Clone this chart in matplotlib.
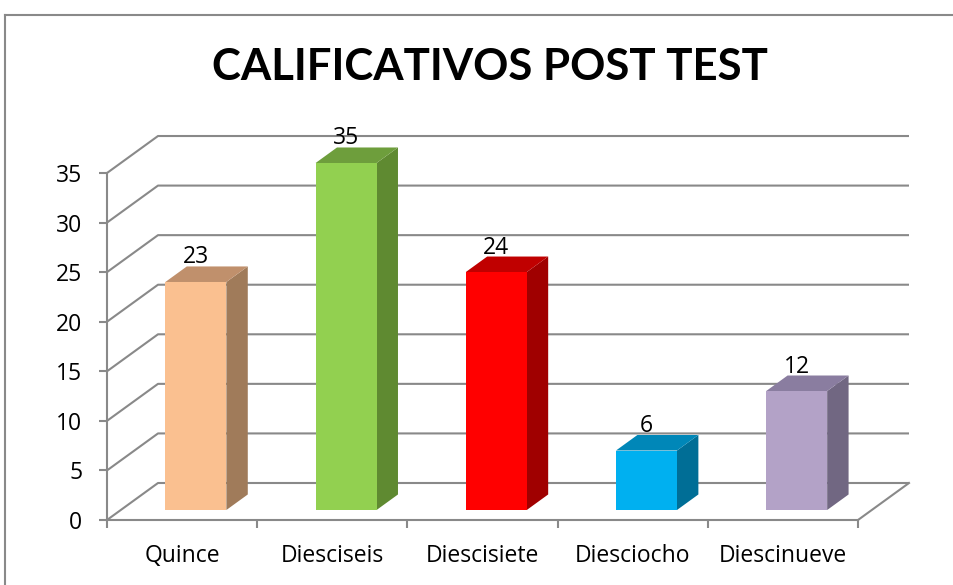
import matplotlib
matplotlib.use("Agg")
import matplotlib.pyplot as plt
from matplotlib.patches import Polygon
from matplotlib.lines import Line2D

# ---- data ----
categories = ["Quince", "Diesciseis", "Diescisiete", "Diesciocho", "Diescinueve"]
values = [23, 35, 24, 6, 12]
y_ticks = [0, 5, 10, 15, 20, 25, 30, 35]
title = "CALIFICATIVOS POST TEST"

front_colors = ["#FAC090", "#92D050", "#FF0000", "#00B0F0", "#B3A2C7"]
top_colors = ["#C0906C", "#6E9E3C", "#C00000", "#0087B8", "#8A7DA0"]
side_colors = ["#A07B5A", "#5F8A31", "#A00000", "#006E96", "#716782"]

FONT = ["Open Sans", "DejaVu Sans"]
TITLE_FONT = ["Lato", "DejaVu Sans"]
GRID = "#898989"
FS = 16.5

W, H = 954, 585
fig = plt.figure(figsize=(W / 100, H / 100), dpi=100)
fig.patch.set_facecolor("white")

px_x0, px_x1 = 107, 910
px_y0, px_y1 = 520, 120
cat_px = 150.2
val_px = 9.914
ax = fig.add_axes([px_x0 / W, 1 - px_y0 / H, (px_x1 - px_x0) / W, (px_y0 - px_y1) / H])
ax.set_xlim(0, (px_x1 - px_x0) / cat_px)
ax.set_ylim(0, (px_y0 - px_y1) / val_px)
ax.patch.set_visible(False)

dzx = 51 / cat_px
dzy = 37 / val_px
n = len(categories)
ymax = y_ticks[-1]


def P(x, y, d):
    return (x + d * dzx, y + d * dzy)


# back wall + left wall gridlines
for v in y_ticks:
    xs, ys = zip(P(0, v, 0), P(0, v, 1), P(n, v, 1))
    ax.plot(xs, ys, color=GRID, lw=1.5, solid_capstyle="butt", clip_on=False, zorder=1)
# floor right edge
xs, ys = zip(P(n, 0, 0), P(n, 0, 1))
ax.plot(xs, ys, color=GRID, lw=1.5, clip_on=False, zorder=1)

# bars
w = 0.406
d0, d1 = 0.27, 0.69
for i, v in enumerate(values):
    xl = i + 0.5 - w / 2
    xr = i + 0.5 + w / 2
    front = [P(xl, 0, d0), P(xr, 0, d0), P(xr, v, d0), P(xl, v, d0)]
    top = [P(xl, v, d0), P(xr, v, d0), P(xr, v, d1), P(xl, v, d1)]
    side = [P(xr, 0, d0), P(xr, 0, d1), P(xr, v, d1), P(xr, v, d0)]
    ax.add_patch(Polygon(side, closed=True, facecolor=side_colors[i], edgecolor="none", zorder=3))
    ax.add_patch(Polygon(top, closed=True, facecolor=top_colors[i], edgecolor="none", zorder=3))
    ax.add_patch(Polygon(front, closed=True, facecolor=front_colors[i], edgecolor="none", zorder=4))
    lx, ly = P(i + 0.5, v, d1)
    ax.annotate(str(v), xy=(lx - d1 * dzx + d0 * dzx, ly), xytext=(0, 3), textcoords="offset pixels",
                ha="center", va="baseline", fontsize=FS, family=FONT, color="black", zorder=6)

# axes spines and ticks
for s in ["top", "right"]:
    ax.spines[s].set_visible(False)
ax.spines["left"].set_bounds(0, ymax)
ax.spines["bottom"].set_bounds(0, n)
for s in ["left", "bottom"]:
    ax.spines[s].set_color(GRID)
    ax.spines[s].set_linewidth(1.5)
    ax.spines[s].set_zorder(5)

ax.set_yticks(y_ticks)
ax.set_yticklabels([str(t) for t in y_ticks], fontsize=FS, family=FONT)
ax.tick_params(axis="y", length=5.8, width=1.5, color=GRID, pad=12)

ax.set_xticks(range(n + 1))
ax.set_xticklabels([""] * (n + 1))
ax.tick_params(axis="x", which="major", length=5.8, width=1.5, color=GRID)
ax.set_xticks([i + 0.5 for i in range(n)], minor=True)
ax.set_xticklabels(categories, minor=True, fontsize=FS, family=FONT)
ax.tick_params(axis="x", which="minor", length=0, pad=17)

# title
fig.text(490 / W, 1 - 67 / H, title, ha="center", va="center", fontsize=31.5,
         fontweight="bold", family=TITLE_FONT)

# outer frame
fig.add_artist(Line2D([5 / W, 1], [1 - 15 / H, 1 - 15 / H], transform=fig.transFigure, color=GRID, lw=1.5))
fig.add_artist(Line2D([5 / W, 5 / W], [1 - 15 / H, 0], transform=fig.transFigure, color=GRID, lw=1.5))

fig.savefig("out.png", dpi=100)
